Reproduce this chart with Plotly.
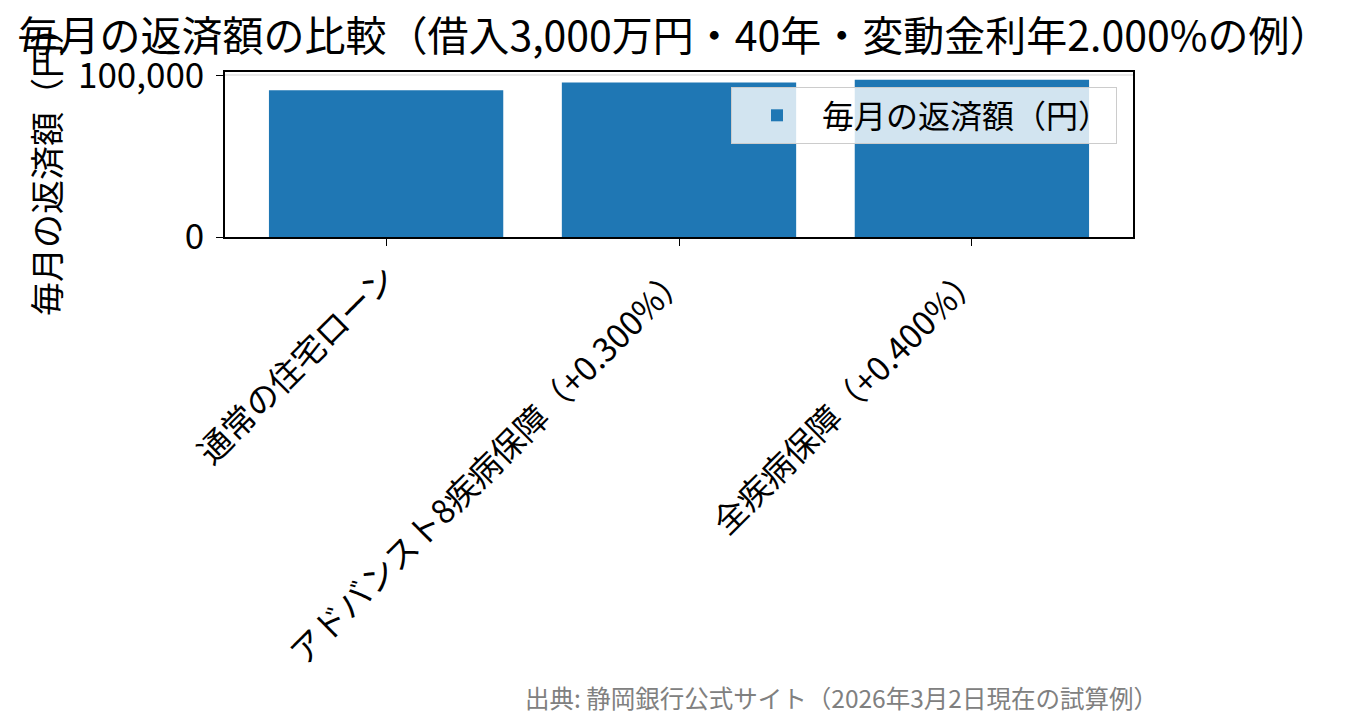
import plotly.graph_objects as go

categories = ["通常の住宅ローン", "アドバンスト8疾病保障（+0.300%）", "全疾病保障（+0.400%）"]
monthly_payment = [90849, 95655, 97286]
series_name = "毎月の返済額（円）"
title_text = "毎月の返済額の比較（借入3,000万円・40年・変動金利年2.000%の例）"
y_label = "毎月の返済額（円）"
source_text = "出典: 静岡銀行公式サイト（2026年3月2日現在の試算例）"
y_tick_vals = [0, 100000]
y_tick_text = ["0", "100,000"]

FONT = "Noto Sans CJK JP"
W, H = 1357, 725
L, R, T, B = 225, 1133, 72, 237

fig = go.Figure()
fig.add_trace(go.Bar(
    x=categories, y=monthly_payment, name=series_name,
    marker=dict(color="#1f77b4", line=dict(width=0)),
    width=0.8, showlegend=True,
))

pw = R - L
ph = B - T

fig.update_layout(
    width=W, height=H,
    margin=dict(l=L, r=W - R, t=T, b=H - B, pad=0),
    paper_bgcolor="white", plot_bgcolor="white",
    font=dict(family=FONT, color="black", size=33),
    title=dict(text=title_text, font=dict(size=41, family=FONT, color="black"),
               x=(674 - L) / pw, xref="paper", xanchor="center",
               y=1 - 37 / H, yref="container", yanchor="middle"),
    showlegend=True,
    legend=dict(x=(1117 - L) / pw, y=(B - 87) / ph, xanchor="right", yanchor="top",
                bgcolor="rgba(255,255,255,0.8)", bordercolor="#cccccc", borderwidth=1,
                font=dict(size=32, family=FONT, color="black"),
                itemwidth=80, tracegroupgap=0),
    xaxis=dict(range=[-0.55, 2.55], tickangle=-45, showline=True, linecolor="black",
               linewidth=1.5, mirror=True, ticks="outside", ticklen=7, tickwidth=1.2,
               tickcolor="black", showgrid=False, tickfont=dict(size=33, family=FONT),
               fixedrange=True),
    yaxis=dict(range=[0, 102150], tickvals=y_tick_vals, ticktext=y_tick_text,
               showline=True, linecolor="black", linewidth=1.5, mirror=True,
               ticks="outside", ticklen=7, tickwidth=1.2, tickcolor="black",
               ticklabelstandoff=5,
               showgrid=True, gridcolor="#e8e8e8", gridwidth=1.5, zeroline=False,
               tickfont=dict(size=35, family=FONT), fixedrange=True),
    bargap=0.2,
)

fig.add_annotation(text=y_label, textangle=-90, xref="paper", yref="paper",
                   x=(45 - L) / pw, y=(B - 163) / ph, xanchor="center", yanchor="middle",
                   showarrow=False, font=dict(size=34, family=FONT, color="black"))

fig.add_annotation(text=source_text, xref="paper", yref="paper",
                   x=(1160 - L) / pw, y=(B - 697) / ph, xanchor="right", yanchor="middle",
                   showarrow=False, font=dict(size=24.5, family=FONT, color="#808080"))

fig.write_html("out.html", config={"displayModeBar": False},
               post_script="document.body.style.margin='0px';")
